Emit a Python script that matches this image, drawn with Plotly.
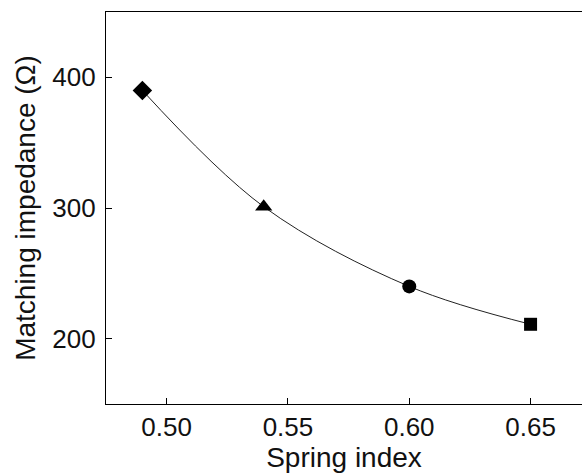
import plotly.graph_objects as go

spring_index = [0.49, 0.54, 0.60, 0.65]
impedance = [390, 301, 240, 211]
symbols = ["diamond", "triangle-up", "circle", "square"]
marker_sizes = [15, 15, 14, 13]
x_ticks = [0.50, 0.55, 0.60, 0.65]
x_tick_text = ["0.50", "0.55", "0.60", "0.65"]
y_ticks = [200, 300, 400]

fig = go.Figure()
fig.add_trace(go.Scatter(
    x=spring_index, y=impedance, mode="lines",
    line=dict(color="#222222", width=1, shape="spline", smoothing=1.0),
    showlegend=False, hoverinfo="skip"))
fig.add_trace(go.Scatter(
    x=spring_index, y=impedance, mode="markers",
    marker=dict(symbol=symbols, size=marker_sizes, color="black", opacity=1,
                line=dict(width=0)),
    showlegend=False))

font_family = "Liberation Sans, Arial, sans-serif"
fig.update_layout(
    width=582, height=475,
    margin=dict(l=106, r=0, t=12, b=71),
    plot_bgcolor="white", paper_bgcolor="white",
    font=dict(family=font_family, color="#111111"),
)
fig.update_xaxes(
    range=[0.475, 0.6712], tickvals=x_ticks, ticktext=x_tick_text,
    ticks="inside", ticklen=6, tickwidth=1, tickcolor="black",
    showline=True, linecolor="black", linewidth=1.3, mirror=True,
    showgrid=False, zeroline=False,
    tickfont=dict(size=26), ticklabelstandoff=0,
    title=dict(text="Spring index", font=dict(size=28), standoff=0),
)
fig.update_yaxes(
    range=[150, 450], tickvals=y_ticks,
    ticks="inside", ticklen=6, tickwidth=1, tickcolor="black",
    showline=True, linecolor="black", linewidth=1.3, mirror=False,
    showgrid=False, zeroline=False,
    tickfont=dict(size=26), ticklabelstandoff=4,
    title=dict(text="Matching impedance (Ω)", font=dict(size=28), standoff=8),
)
fig.write_html("out.html")
